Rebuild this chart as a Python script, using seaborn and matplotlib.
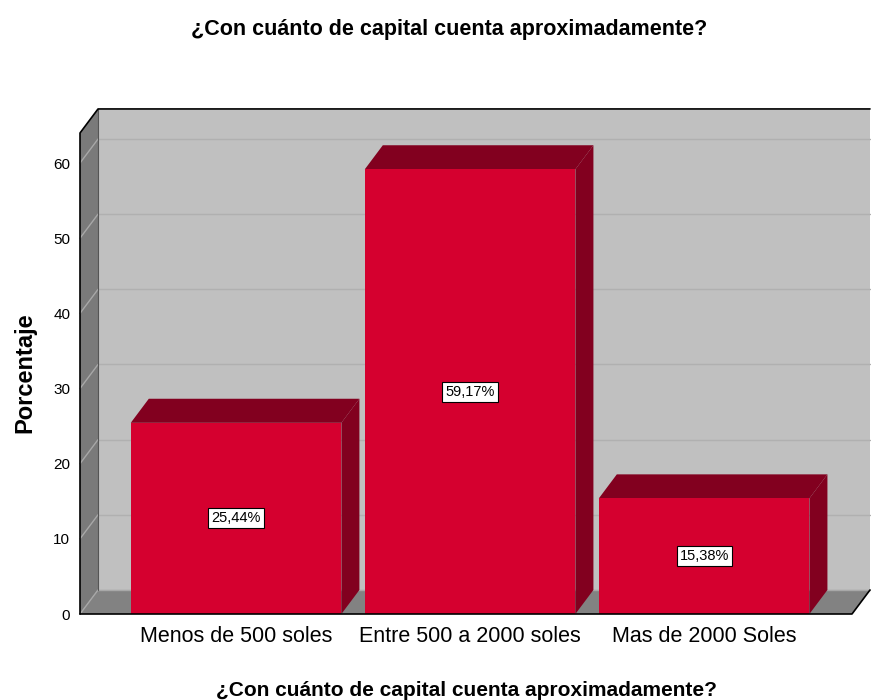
import matplotlib
matplotlib.use("Agg")
import matplotlib.pyplot as plt
from matplotlib.patches import Polygon
import seaborn as sns
import pandas as pd

# data
categories = ["Menos de 500 soles", "Entre 500 a 2000 soles", "Mas de 2000 Soles"]
percentages = [25.44, 59.17, 15.38]
value_labels = ["25,44%", "59,17%", "15,38%"]
y_ticks = [0, 10, 20, 30, 40, 50, 60]

title = "¿Con cuánto de capital cuenta aproximadamente?"

sns.set_style("white")
plt.rcParams["font.family"] = ["Liberation Sans", "DejaVu Sans"]
plt.rcParams["text.color"] = "black"
plt.rcParams["axes.labelcolor"] = "black"
plt.rcParams["xtick.color"] = "black"
plt.rcParams["ytick.color"] = "black"

front_col = "#d5002f"
dark_col = "#82001f"
wall_col = "#c0c0c0"
side_col = "#7a7a7a"
floor_col = "#828282"

df = pd.DataFrame({"cat": categories, "pct": percentages})

fig = plt.figure(figsize=(8.71, 7.0), dpi=100)
ax = fig.add_axes([80 / 871, 1 - 614 / 700, (852 - 80) / 871, (614 - 133) / 700])

sns.barplot(data=df, x="cat", y="pct", color=front_col, width=0.9,
            saturation=1, ax=ax, zorder=3, edgecolor="none")

x0, x1 = -0.667, 2.632
ymax = 64
dx, dy = 0.077, 3.2
ax.set_xlim(x0, x1)
ax.set_ylim(0, ymax)

# back wall, left wall and floor
ax.add_patch(Polygon([(x0 + dx, dy), (x1 + dx, dy), (x1 + dx, ymax + dy), (x0 + dx, ymax + dy)],
                     closed=True, fc=wall_col, ec="none", zorder=0, clip_on=False))
ax.add_patch(Polygon([(x0, 0), (x0 + dx, dy), (x0 + dx, ymax + dy), (x0, ymax)],
                     closed=True, fc=side_col, ec="none", zorder=1, clip_on=False))
ax.add_patch(Polygon([(x0, 0), (x1, 0), (x1 + dx, dy), (x0 + dx, dy)],
                     closed=True, fc=floor_col, ec="none", zorder=1, clip_on=False))

for t in y_ticks:
    if t > 0:
        ax.plot([x0 + dx, x1 + dx], [t + dy, t + dy], color="#b0b0b0", lw=1, zorder=0.5, clip_on=False)
    ax.plot([x0, x0 + dx], [t, t + dy], color="#a8a8a8", lw=1, zorder=1.5, clip_on=False)
ax.plot([x0 + dx, x1 + dx], [dy, dy], color="#a8a8a8", lw=1, zorder=1.2, clip_on=False)

# outlines
ax.plot([x0, x0, x0 + dx, x1 + dx], [0, ymax, ymax + dy, ymax + dy], color="black", lw=1.2, zorder=5, clip_on=False)
ax.plot([x0, x1, x1 + dx], [0, 0, dy], color="black", lw=1.2, zorder=5, clip_on=False)
ax.plot([x0 + dx, x0 + dx], [dy, ymax + dy], color="#555555", lw=0.8, zorder=1.6, clip_on=False)

# 3d faces of each bar + value boxes
for bar, lab in zip(ax.patches[:len(categories)], value_labels):
    xl = bar.get_x()
    xr = xl + bar.get_width()
    h = bar.get_height()
    ax.add_patch(Polygon([(xl, h), (xr, h), (xr + dx, h + dy), (xl + dx, h + dy)],
                         closed=True, fc=dark_col, ec="none", zorder=2.5, clip_on=False))
    ax.add_patch(Polygon([(xr, 0), (xr + dx, dy), (xr + dx, h + dy), (xr, h)],
                         closed=True, fc=dark_col, ec="none", zorder=2.5, clip_on=False))
    ax.text((xl + xr) / 2, h / 2, lab, ha="center", va="center", fontsize=10.5, zorder=6,
            bbox=dict(boxstyle="square,pad=0.2", fc="white", ec="black", lw=0.8))

for s in ax.spines.values():
    s.set_visible(False)
ax.set_yticks(y_ticks)
ax.tick_params(axis="y", length=0, labelsize=11, pad=7)
ax.tick_params(axis="x", length=0, labelsize=15.5, pad=9)
ax.set_xlabel(title, fontsize=15, fontweight="bold", va="center")
ax.xaxis.set_label_coords(0.5, (614 - 690) / 481)
ax.set_ylabel("Porcentaje", fontsize=17, fontweight="bold", va="center")
ax.yaxis.set_label_coords((25 - 80) / 772, (614 - 373) / 481)
fig.suptitle(title, fontsize=15.5, fontweight="bold", y=1 - 30 / 700, va="center", x=449 / 871)

fig.savefig("out.png", dpi=100)
